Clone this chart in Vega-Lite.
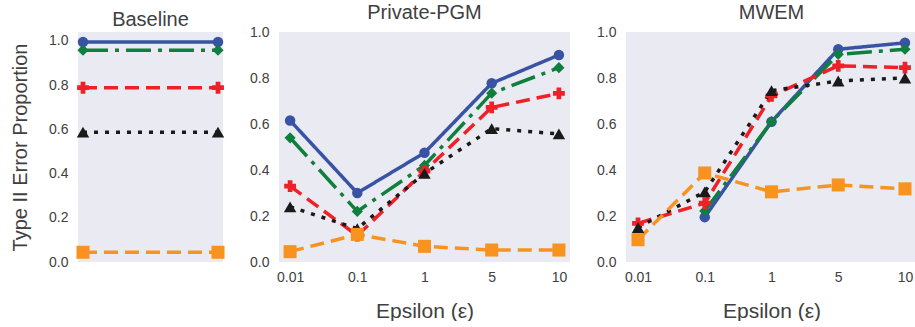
{
  "$schema": "https://vega.github.io/schema/vega-lite/v6.json",
  "padding": {"left": 10, "top": 3, "right": -2, "bottom": 0},
  "background": "white",
  "bounds": "flush",
  "spacing": 56,
  "config": {
    "font": "Liberation Sans",
    "view": {"fill": "#EAEAF2", "stroke": null},
    "axis": {"domain": false, "ticks": false, "grid": false, "labelFont": "Liberation Sans", "labelFontSize": 14, "labelColor": "#404040", "titleFont": "Liberation Sans", "titleFontSize": 20, "titleFontWeight": "normal", "titleColor": "#404040"},
    "axisX": {"labelPadding": 8, "titlePadding": 16, "labelAngle": 0, "titleFontSize": 21},
    "axisY": {"labelPadding": 10, "titlePadding": 18},
    "title": {"fontSize": 20, "fontWeight": "normal", "color": "#404040", "offset": 2, "baseline": "alphabetic", "font": "Liberation Sans"}
  },
  "datasets": {
    "d": [
      {"panel": "Baseline", "eps": 0.01, "series": "S1", "value": 0.995},
      {"panel": "Baseline", "eps": 10, "series": "S1", "value": 0.995},
      {"panel": "Baseline", "eps": 0.01, "series": "S2", "value": 0.958},
      {"panel": "Baseline", "eps": 10, "series": "S2", "value": 0.958},
      {"panel": "Baseline", "eps": 0.01, "series": "S3", "value": 0.788},
      {"panel": "Baseline", "eps": 10, "series": "S3", "value": 0.788},
      {"panel": "Baseline", "eps": 0.01, "series": "S4", "value": 0.587},
      {"panel": "Baseline", "eps": 10, "series": "S4", "value": 0.587},
      {"panel": "Baseline", "eps": 0.01, "series": "S5", "value": 0.044},
      {"panel": "Baseline", "eps": 10, "series": "S5", "value": 0.044},

      {"panel": "Private-PGM", "eps": 0.01, "series": "S1", "value": 0.615},
      {"panel": "Private-PGM", "eps": 0.1, "series": "S1", "value": 0.30},
      {"panel": "Private-PGM", "eps": 1, "series": "S1", "value": 0.475},
      {"panel": "Private-PGM", "eps": 5, "series": "S1", "value": 0.777},
      {"panel": "Private-PGM", "eps": 10, "series": "S1", "value": 0.90},
      {"panel": "Private-PGM", "eps": 0.01, "series": "S2", "value": 0.54},
      {"panel": "Private-PGM", "eps": 0.1, "series": "S2", "value": 0.22},
      {"panel": "Private-PGM", "eps": 1, "series": "S2", "value": 0.42},
      {"panel": "Private-PGM", "eps": 5, "series": "S2", "value": 0.734},
      {"panel": "Private-PGM", "eps": 10, "series": "S2", "value": 0.845},
      {"panel": "Private-PGM", "eps": 0.01, "series": "S3", "value": 0.33},
      {"panel": "Private-PGM", "eps": 0.1, "series": "S3", "value": 0.115},
      {"panel": "Private-PGM", "eps": 1, "series": "S3", "value": 0.395},
      {"panel": "Private-PGM", "eps": 5, "series": "S3", "value": 0.672},
      {"panel": "Private-PGM", "eps": 10, "series": "S3", "value": 0.733},
      {"panel": "Private-PGM", "eps": 0.01, "series": "S4", "value": 0.24},
      {"panel": "Private-PGM", "eps": 0.1, "series": "S4", "value": 0.145},
      {"panel": "Private-PGM", "eps": 1, "series": "S4", "value": 0.385},
      {"panel": "Private-PGM", "eps": 5, "series": "S4", "value": 0.58},
      {"panel": "Private-PGM", "eps": 10, "series": "S4", "value": 0.557},
      {"panel": "Private-PGM", "eps": 0.01, "series": "S5", "value": 0.045},
      {"panel": "Private-PGM", "eps": 0.1, "series": "S5", "value": 0.12},
      {"panel": "Private-PGM", "eps": 1, "series": "S5", "value": 0.068},
      {"panel": "Private-PGM", "eps": 5, "series": "S5", "value": 0.052},
      {"panel": "Private-PGM", "eps": 10, "series": "S5", "value": 0.052},

      {"panel": "MWEM", "eps": 0.1, "series": "S1", "value": 0.195},
      {"panel": "MWEM", "eps": 1, "series": "S1", "value": 0.61},
      {"panel": "MWEM", "eps": 5, "series": "S1", "value": 0.925},
      {"panel": "MWEM", "eps": 10, "series": "S1", "value": 0.953},
      {"panel": "MWEM", "eps": 0.1, "series": "S2", "value": 0.222},
      {"panel": "MWEM", "eps": 1, "series": "S2", "value": 0.61},
      {"panel": "MWEM", "eps": 5, "series": "S2", "value": 0.903},
      {"panel": "MWEM", "eps": 10, "series": "S2", "value": 0.925},
      {"panel": "MWEM", "eps": 0.01, "series": "S3", "value": 0.168},
      {"panel": "MWEM", "eps": 0.1, "series": "S3", "value": 0.256},
      {"panel": "MWEM", "eps": 1, "series": "S3", "value": 0.722},
      {"panel": "MWEM", "eps": 5, "series": "S3", "value": 0.853},
      {"panel": "MWEM", "eps": 10, "series": "S3", "value": 0.845},
      {"panel": "MWEM", "eps": 0.01, "series": "S4", "value": 0.15},
      {"panel": "MWEM", "eps": 0.1, "series": "S4", "value": 0.305},
      {"panel": "MWEM", "eps": 1, "series": "S4", "value": 0.745},
      {"panel": "MWEM", "eps": 5, "series": "S4", "value": 0.787},
      {"panel": "MWEM", "eps": 10, "series": "S4", "value": 0.80},
      {"panel": "MWEM", "eps": 0.01, "series": "S5", "value": 0.097},
      {"panel": "MWEM", "eps": 0.1, "series": "S5", "value": 0.387},
      {"panel": "MWEM", "eps": 1, "series": "S5", "value": 0.305},
      {"panel": "MWEM", "eps": 5, "series": "S5", "value": 0.335},
      {"panel": "MWEM", "eps": 10, "series": "S5", "value": 0.318}
    ]
  },
  "data": {"name": "d"},
  "hconcat": [
    {
      "title": "Baseline",
      "width": 145, "height": 230,
      "transform": [{"filter": "datum.panel === 'Baseline'"}],
      "encoding": {
        "x": {"field": "eps", "type": "ordinal", "scale": {"type": "point", "padding": 0.037}, "axis": null},
        "y": {"field": "value", "type": "quantitative", "scale": {"domain": [0, 1.04], "nice": false}, "axis": {"values": [0, 0.2, 0.4, 0.6, 0.8, 1.0], "format": ".1f", "title": "Type II Error Proportion"}},
        "color": {"field": "series", "type": "nominal", "scale": {"domain": ["S1", "S2", "S3", "S4", "S5"], "range": ["#3953A4", "#0F7F3D", "#EE2028", "#1A1A1A", "#F7931E"]}, "legend": null}
      },
      "layer": [
        {"mark": {"type": "line", "strokeWidth": 3.5, "strokeCap": "butt"}, "encoding": {"strokeDash": {"field": "series", "type": "nominal", "scale": {"domain": ["S1", "S2", "S3", "S4", "S5"], "range": [[1, 0], [25, 7, 4, 7], [14, 7], [4, 7], [14, 7]]}, "legend": null}}},
        {"mark": {"type": "point", "filled": true, "opacity": 1}, "encoding": {"shape": {"field": "series", "type": "nominal", "scale": {"domain": ["S1", "S2", "S3", "S4", "S5"], "range": ["circle", "diamond", "cross", "triangle-up", "square"]}, "legend": null}, "size": {"field": "series", "type": "nominal", "scale": {"domain": ["S1", "S2", "S3", "S4", "S5"], "range": [110, 170, 135, 125, 105]}, "legend": null}}}
      ]
    },
    {
      "title": "Private-PGM",
      "width": 291, "height": 230,
      "transform": [{"filter": "datum.panel === 'Private-PGM'"}],
      "encoding": {
        "x": {"field": "eps", "type": "ordinal", "scale": {"type": "point", "padding": 0.165}, "axis": {"title": "Epsilon (ε)"}},
        "y": {"field": "value", "type": "quantitative", "scale": {"domain": [0, 1], "nice": false}, "axis": {"values": [0, 0.2, 0.4, 0.6, 0.8, 1.0], "format": ".1f", "title": null}},
        "color": {"field": "series", "type": "nominal", "scale": {"domain": ["S1", "S2", "S3", "S4", "S5"], "range": ["#3953A4", "#0F7F3D", "#EE2028", "#1A1A1A", "#F7931E"]}, "legend": null}
      },
      "layer": [
        {"mark": {"type": "line", "strokeWidth": 3.5, "strokeCap": "butt"}, "encoding": {"strokeDash": {"field": "series", "type": "nominal", "scale": {"domain": ["S1", "S2", "S3", "S4", "S5"], "range": [[1, 0], [25, 7, 4, 7], [14, 7], [4, 7], [14, 7]]}, "legend": null}}},
        {"mark": {"type": "point", "filled": true, "opacity": 1}, "encoding": {"shape": {"field": "series", "type": "nominal", "scale": {"domain": ["S1", "S2", "S3", "S4", "S5"], "range": ["circle", "diamond", "cross", "triangle-up", "square"]}, "legend": null}, "size": {"field": "series", "type": "nominal", "scale": {"domain": ["S1", "S2", "S3", "S4", "S5"], "range": [110, 170, 135, 125, 105]}, "legend": null}}}
      ]
    },
    {
      "title": "MWEM",
      "width": 291, "height": 230,
      "transform": [{"filter": "datum.panel === 'MWEM'"}],
      "encoding": {
        "x": {"field": "eps", "type": "ordinal", "scale": {"type": "point", "padding": 0.18}, "axis": {"title": "Epsilon (ε)"}},
        "y": {"field": "value", "type": "quantitative", "scale": {"domain": [0, 1], "nice": false}, "axis": {"values": [0, 0.2, 0.4, 0.6, 0.8, 1.0], "format": ".1f", "title": null}},
        "color": {"field": "series", "type": "nominal", "scale": {"domain": ["S1", "S2", "S3", "S4", "S5"], "range": ["#3953A4", "#0F7F3D", "#EE2028", "#1A1A1A", "#F7931E"]}, "legend": null}
      },
      "layer": [
        {"mark": {"type": "line", "strokeWidth": 3.5, "strokeCap": "butt"}, "encoding": {"strokeDash": {"field": "series", "type": "nominal", "scale": {"domain": ["S1", "S2", "S3", "S4", "S5"], "range": [[1, 0], [25, 7, 4, 7], [14, 7], [4, 7], [14, 7]]}, "legend": null}}},
        {"mark": {"type": "point", "filled": true, "opacity": 1}, "encoding": {"shape": {"field": "series", "type": "nominal", "scale": {"domain": ["S1", "S2", "S3", "S4", "S5"], "range": ["circle", "diamond", "cross", "triangle-up", "square"]}, "legend": null}, "size": {"field": "series", "type": "nominal", "scale": {"domain": ["S1", "S2", "S3", "S4", "S5"], "range": [110, 170, 135, 125, 105]}, "legend": null}}}
      ]
    }
  ],
  "resolve": {"scale": {"x": "independent", "y": "independent"}}
}
